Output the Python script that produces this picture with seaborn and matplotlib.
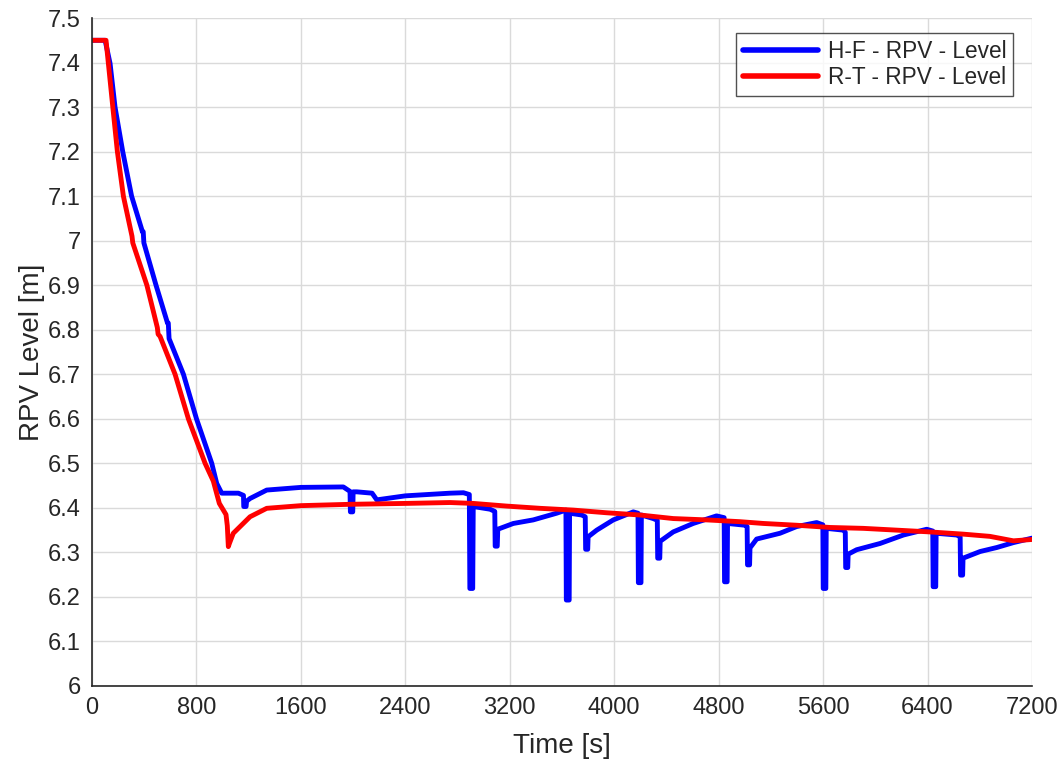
import matplotlib
matplotlib.use("Agg")
import matplotlib.pyplot as plt
import pandas as pd
import seaborn as sns
from matplotlib.ticker import FuncFormatter, MultipleLocator

# H-F series (blue)
hf_time = [0, 100, 138, 176, 235, 303, 386, 392, 397, 490, 578, 584, 590,
           700, 800, 917, 955, 993, 1121, 1160, 1162, 1180, 1184, 1210, 1338,
           1600, 1925, 1976, 1979, 1997, 2000, 2028, 2145, 2181, 2400, 2742,
           2845, 2890, 2894, 2916, 2920, 3049, 3085, 3088, 3104, 3108, 3227,
           3380, 3559, 3630, 3633, 3655, 3658, 3751, 3778, 3781, 3797, 3800,
           3866, 3993, 4146, 4182, 4185, 4205, 4208, 4299, 4330, 4333, 4349,
           4352, 4452, 4605, 4784, 4842, 4845, 4865, 4868, 5002, 5018, 5021,
           5037, 5040, 5091, 5270, 5397, 5551, 5598, 5601, 5621, 5624, 5755,
           5770, 5773, 5789, 5792, 5857, 6036, 6215, 6394, 6440, 6443, 6463,
           6466, 6624, 6650, 6653, 6669, 6672, 6803, 6931, 7058, 7200]
hf_level = [7.45, 7.45, 7.398, 7.30, 7.20, 7.10, 7.02, 7.02, 6.995, 6.90,
            6.815, 6.815, 6.78, 6.70, 6.60, 6.50, 6.455, 6.433, 6.433, 6.428,
            6.403, 6.403, 6.415, 6.421, 6.44, 6.446, 6.447, 6.437, 6.391,
            6.391, 6.436, 6.436, 6.433, 6.418, 6.427, 6.433, 6.434, 6.43,
            6.219, 6.219, 6.403, 6.397, 6.392, 6.314, 6.314, 6.352, 6.365,
            6.373, 6.388, 6.395, 6.193, 6.193, 6.388, 6.384, 6.38, 6.307,
            6.307, 6.335, 6.35, 6.373, 6.391, 6.388, 6.232, 6.232, 6.384,
            6.376, 6.372, 6.287, 6.287, 6.325, 6.346, 6.365, 6.382, 6.378,
            6.234, 6.234, 6.365, 6.361, 6.358, 6.272, 6.272, 6.31, 6.33,
            6.343, 6.358, 6.367, 6.362, 6.219, 6.219, 6.354, 6.35, 6.345,
            6.266, 6.266, 6.296, 6.306, 6.32, 6.339, 6.352, 6.348, 6.223,
            6.223, 6.343, 6.339, 6.335, 6.249, 6.249, 6.287, 6.302, 6.311,
            6.322, 6.332]

# R-T series (red)
rt_time = [0, 107, 159, 194, 240, 306, 312, 420, 500, 506, 521, 636, 738,
           866, 929, 975, 1026, 1036, 1044, 1052, 1082, 1210, 1338, 1600,
           1976, 2400, 2742, 2921, 3176, 3431, 3687, 3942, 4197, 4452, 4707,
           4963, 5142, 5397, 5652, 5908, 6163, 6418, 6674, 6878, 7058, 7200]
rt_level = [7.45, 7.45, 7.30, 7.20, 7.10, 7.01, 6.995, 6.90, 6.805, 6.79,
            6.785, 6.70, 6.60, 6.50, 6.46, 6.41, 6.385, 6.36, 6.313, 6.32,
            6.343, 6.38, 6.399, 6.405, 6.408, 6.41, 6.412, 6.41, 6.404, 6.399,
            6.395, 6.389, 6.384, 6.376, 6.373, 6.369, 6.365, 6.361, 6.356,
            6.354, 6.35, 6.346, 6.341, 6.336, 6.326, 6.329]

series_names = ["H-F - RPV - Level", "R-T - RPV - Level"]
series_colors = ["#0000ff", "#ff0000"]

df = pd.concat([
    pd.DataFrame({"Time": hf_time, "Level": hf_level, "Series": series_names[0]}),
    pd.DataFrame({"Time": rt_time, "Level": rt_level, "Series": series_names[1]}),
])

sns.set_theme(style="white")
plt.rcParams["font.family"] = ["Liberation Sans", "DejaVu Sans"]

fig, ax = plt.subplots(figsize=(10.63, 7.64), dpi=100)
fig.subplots_adjust(left=0.0866, right=0.9708, bottom=0.1021, top=0.9764)

sns.lineplot(data=df, x="Time", y="Level", hue="Series", hue_order=series_names,
             palette=series_colors, estimator=None, sort=False, linewidth=3.5, ax=ax)

ax.set_xlim(0, 7200)
ax.set_ylim(6, 7.5)
ax.xaxis.set_major_locator(MultipleLocator(800))
ax.yaxis.set_major_locator(MultipleLocator(0.1))
ax.yaxis.set_major_formatter(FuncFormatter(lambda v, p: "%g" % round(v, 2)))
ax.grid(True, color="#dadada", linewidth=1)
ax.set_axisbelow(True)

for s in ["top", "right"]:
    ax.spines[s].set_visible(False)
for s in ["left", "bottom"]:
    ax.spines[s].set_color("#262626")
    ax.spines[s].set_linewidth(1.2)
ax.tick_params(direction="in", length=7, width=1.2, color="#262626",
               labelsize=17, labelcolor="#262626", pad=8)

ax.set_xlabel("Time [s]", fontsize=20, color="#262626", labelpad=10)
ax.set_ylabel("RPV Level [m]", fontsize=20, color="#262626", labelpad=2)

leg = ax.legend(loc="upper right", bbox_to_anchor=(0.98, 0.9775), fontsize=16.3,
                handlelength=3.3, frameon=True, fancybox=False, borderpad=0.3,
                labelspacing=0.15, handletextpad=0.45, borderaxespad=0)
leg.get_frame().set_edgecolor("#262626")
leg.get_frame().set_linewidth(1)
for line in leg.get_lines():
    line.set_linewidth(4)

fig.savefig("out.png", dpi=100, facecolor="white")
